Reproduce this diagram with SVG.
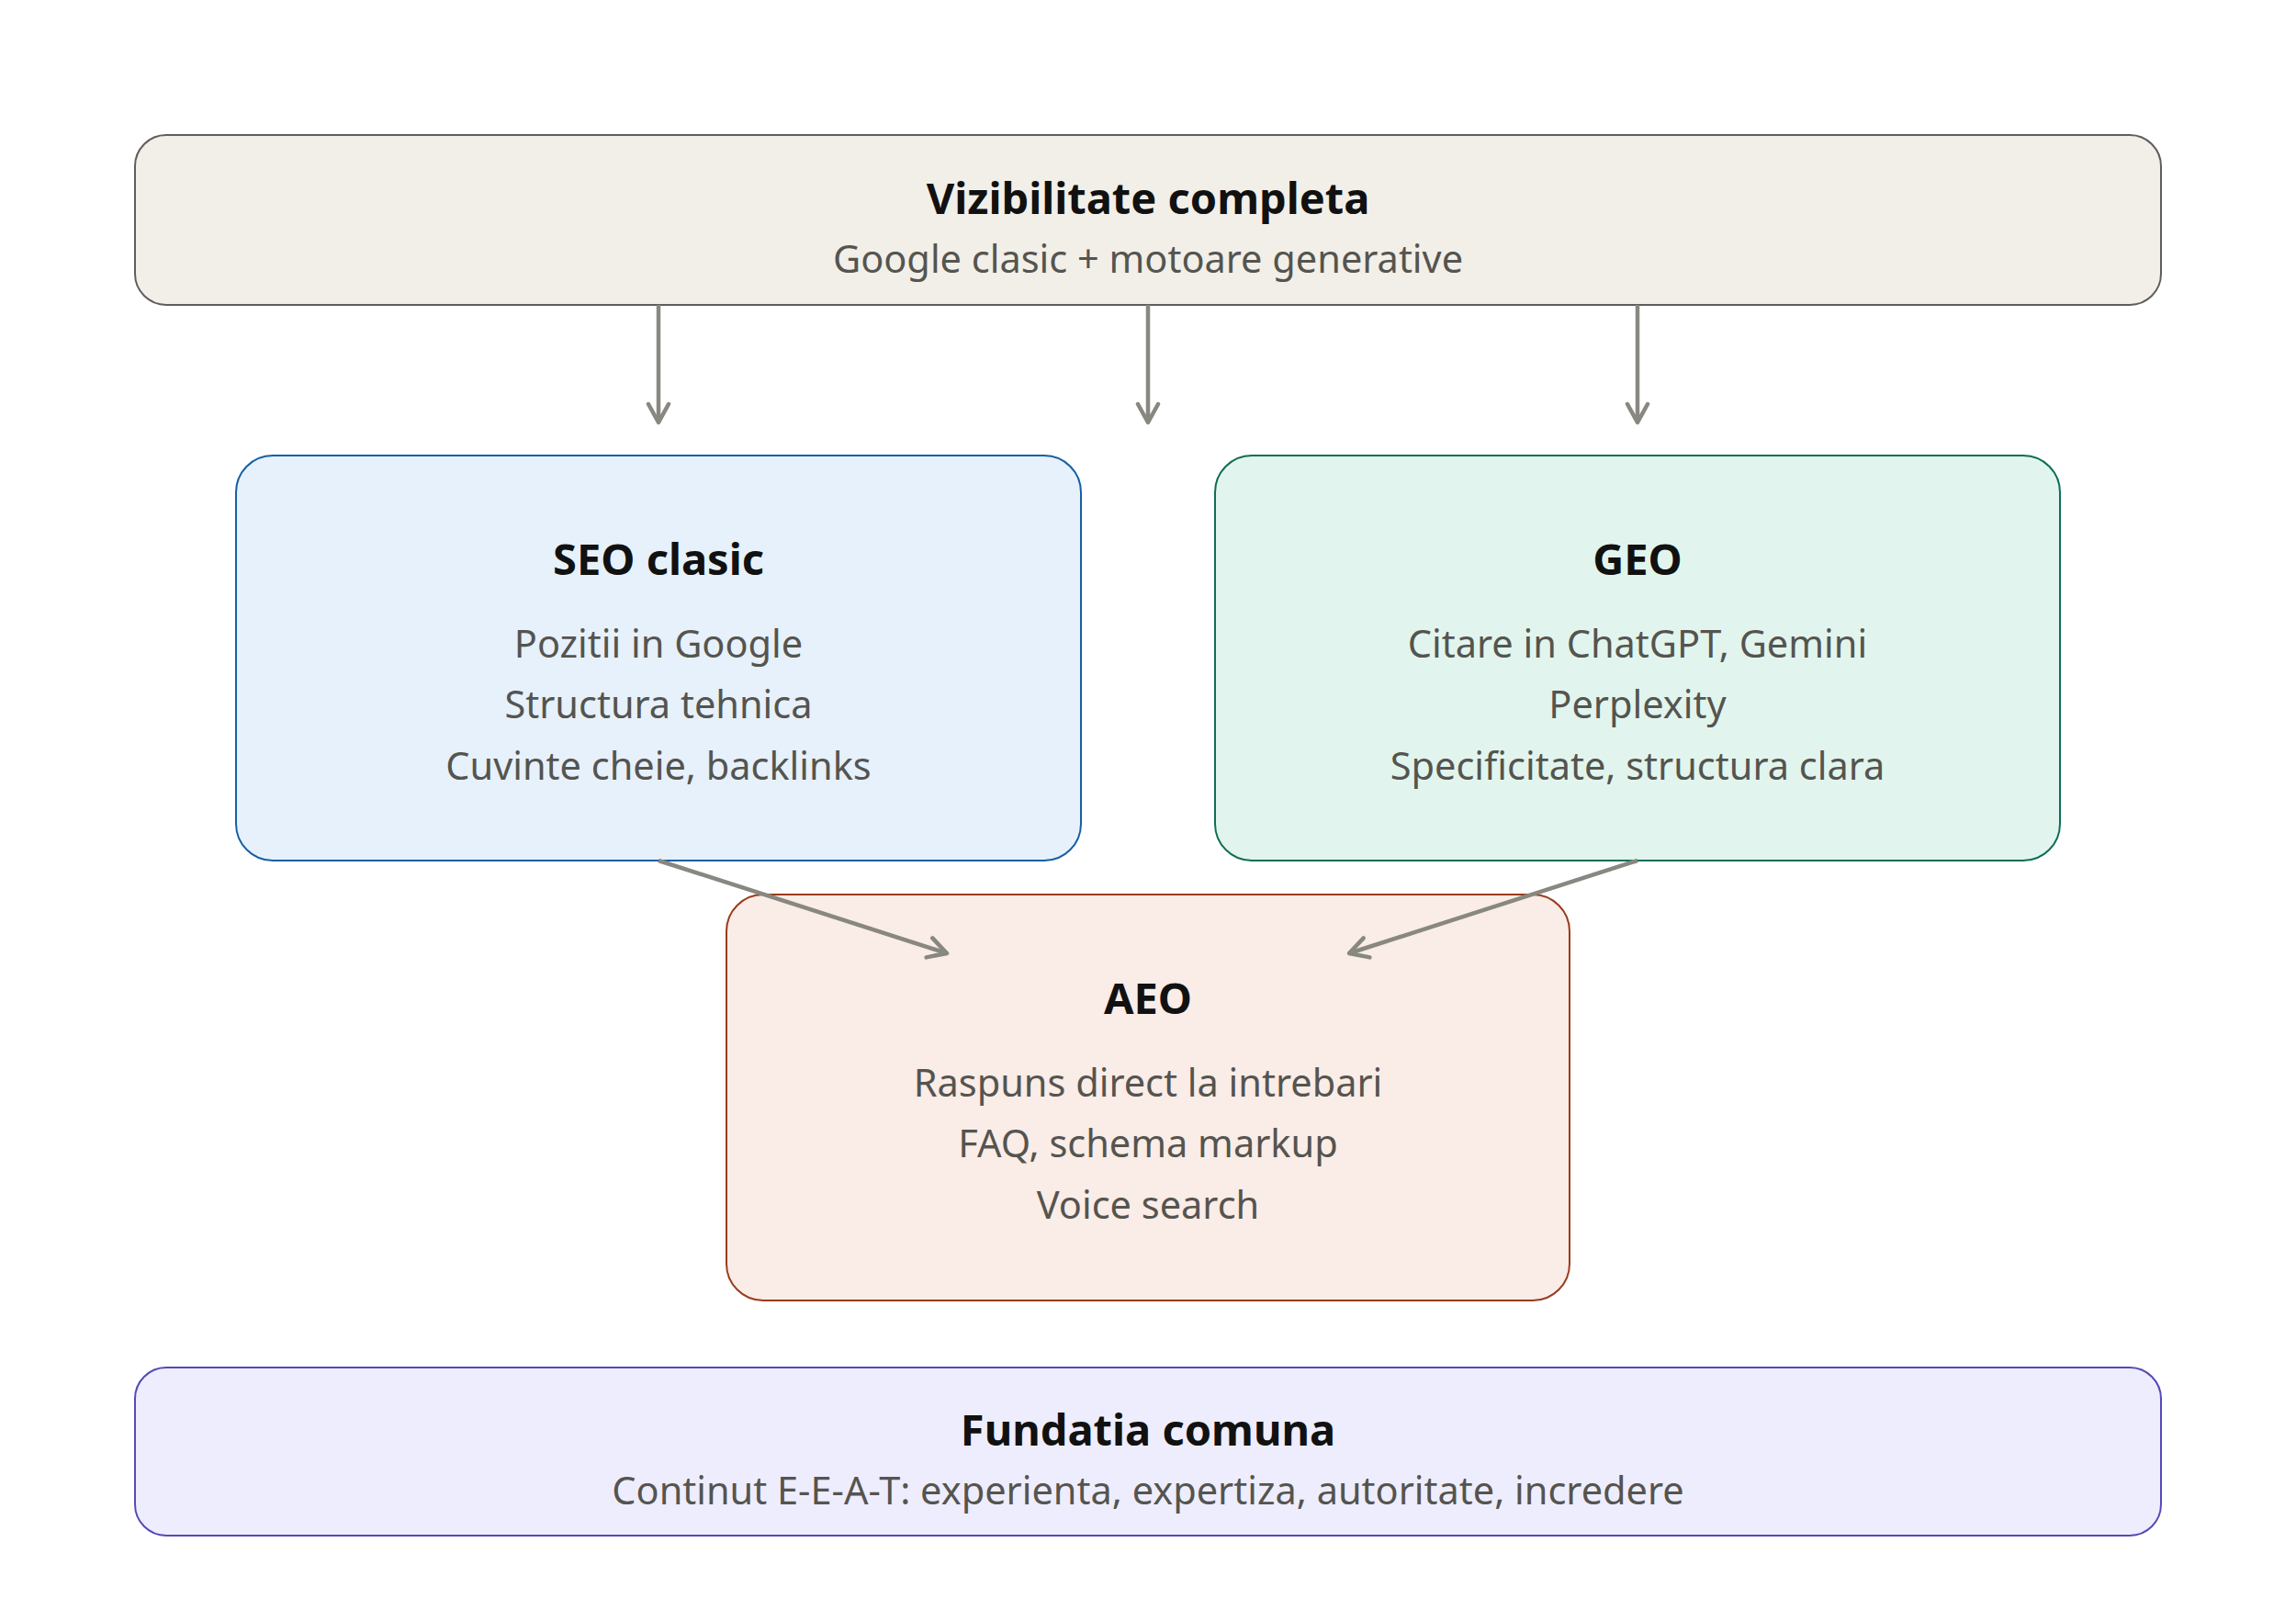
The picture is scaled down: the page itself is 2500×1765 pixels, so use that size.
<svg xmlns="http://www.w3.org/2000/svg" width="2500" height="1765" viewBox="0 0 2500 1765">
  <defs>
    <marker id="arrow" viewBox="0 0 28 28" refX="25" refY="14" markerWidth="28" markerHeight="28" markerUnits="userSpaceOnUse" orient="auto">
      <path d="M5 3 L25 14 L5 25" fill="none" stroke="#888780" stroke-width="4.5" stroke-linecap="round" stroke-linejoin="round"/>
    </marker>
    <style>
      .title { font-family: "Noto Sans", "Open Sans", sans-serif; font-weight: 700; font-size: 47px; fill: #111111; text-anchor: middle; }
      .body { font-family: "Noto Sans", "Open Sans", sans-serif; font-size: 41.5px; fill: #55544f; text-anchor: middle; }
      .edge { fill: none; stroke: #888780; stroke-width: 4.5; marker-end: url(#arrow); }
      .box { stroke-width: 2; }
    </style>
  </defs>
  <rect width="2500" height="1765" fill="#ffffff"/>

  <!-- top: complete visibility -->
  <g id="vizibilitate">
    <rect class="box" x="147" y="147" width="2206" height="185" rx="34" fill="#f1efe8" stroke="#5f5e5a"/>
    <text class="title" x="1250" y="233">Vizibilitate completa</text>
    <text class="body" x="1250" y="297">Google clasic + motoare generative</text>
  </g>

  <g id="seo">
    <rect class="box" x="257" y="496" width="920" height="441" rx="40" fill="#e6f1fb" stroke="#185fa5"/>
    <text class="title" x="717" y="626">SEO clasic</text>
    <text class="body" x="717" y="716">Pozitii in Google</text>
    <text class="body" x="717" y="782">Structura tehnica</text>
    <text class="body" x="717" y="849">Cuvinte cheie, backlinks</text>
  </g>

  <g id="geo">
    <rect class="box" x="1323" y="496" width="920" height="441" rx="40" fill="#e1f5ee" stroke="#0f6e56"/>
    <text class="title" x="1783" y="626">GEO</text>
    <text class="body" x="1783" y="716">Citare in ChatGPT, Gemini</text>
    <text class="body" x="1783" y="782">Perplexity</text>
    <text class="body" x="1783" y="849">Specificitate, structura clara</text>
  </g>

  <g id="aeo">
    <rect class="box" x="791" y="974" width="918" height="442" rx="40" fill="#faece7" stroke="#993c1d"/>
    <text class="title" x="1250" y="1104">AEO</text>
    <text class="body" x="1250" y="1194">Raspuns direct la intrebari</text>
    <text class="body" x="1250" y="1260">FAQ, schema markup</text>
    <text class="body" x="1250" y="1327">Voice search</text>
  </g>

  <g id="fundatia">
    <rect class="box" x="147" y="1489" width="2206" height="183" rx="34" fill="#eeedfe" stroke="#534ab7"/>
    <text class="title" x="1250" y="1574">Fundatia comuna</text>
    <text class="body" x="1250" y="1638">Continut E-E-A-T: experienta, expertiza, autoritate, incredere</text>
  </g>

  <g id="connectors">
    <line class="edge" x1="717" y1="332" x2="717" y2="460"/>
    <line class="edge" x1="1250" y1="332" x2="1250" y2="460"/>
    <line class="edge" x1="1783" y1="332" x2="1783" y2="460"/>
    <line class="edge" x1="717" y1="937" x2="1031" y2="1038"/>
    <line class="edge" x1="1783" y1="937" x2="1469" y2="1038"/>
  </g>
</svg>
